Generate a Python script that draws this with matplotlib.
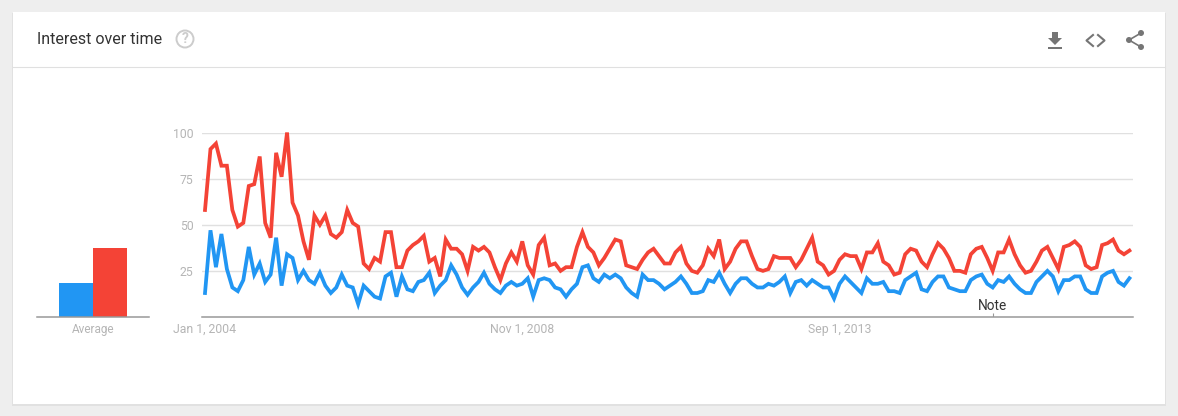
import matplotlib
matplotlib.use("Agg")
import matplotlib.pyplot as plt
from matplotlib.patches import Rectangle, Circle, Polygon

plt.rcParams["font.family"] = ["Roboto", "DejaVu Sans"]

red_vals = [
    58, 91, 94, 82, 82, 58, 49, 51, 71, 72, 87, 51, 43, 89, 76, 100, 62, 55, 41, 31,
    55, 50, 55, 45, 43, 46, 58, 51, 49, 29, 26, 32, 30, 46, 46, 27, 27, 36, 39, 41,
    44, 30, 32, 22, 42, 37, 37, 34, 25, 38, 36, 38, 35, 27, 20, 29, 35, 30, 41, 28,
    23, 39, 43, 28, 29, 25, 27, 27, 38, 46, 38, 35, 28, 32, 37, 42, 41, 28, 27, 26,
    31, 35, 37, 33, 29, 29, 35, 38, 29, 25, 24, 28, 37, 33, 42, 26, 30, 37, 41, 41,
    33, 26, 25, 26, 33, 32, 32, 32, 27, 31, 37, 43, 30, 28, 23, 25, 31, 34, 33, 33,
    26, 35, 35, 40, 30, 28, 23, 24, 34, 37, 36, 30, 27, 34, 40, 37, 32, 25, 25, 24,
    34, 37, 38, 32, 25, 35, 35, 42, 34, 28, 24, 25, 30, 36, 38, 32, 26, 38, 39, 41,
    38, 28, 26, 27, 39, 40, 42, 36, 34, 36,
]
blue_vals = [
    13, 47, 27, 45, 26, 16, 14, 20, 38, 23, 29, 19, 23, 43, 17, 34, 32, 20, 25, 20,
    18, 24, 17, 13, 16, 23, 17, 16, 7, 17, 14, 11, 10, 22, 24, 11, 22, 15, 14, 19,
    20, 24, 13, 17, 20, 28, 23, 16, 12, 16, 19, 24, 18, 15, 13, 17, 19, 17, 18, 21,
    11, 20, 21, 20, 16, 15, 11, 15, 18, 27, 28, 21, 19, 23, 21, 23, 21, 16, 13, 11,
    23, 20, 20, 18, 15, 17, 19, 22, 18, 13, 13, 14, 20, 19, 24, 18, 13, 18, 21, 21,
    18, 16, 16, 18, 17, 19, 22, 13, 19, 20, 17, 20, 18, 16, 16, 10, 18, 22, 19, 16,
    13, 21, 18, 18, 19, 14, 14, 13, 20, 22, 24, 15, 14, 19, 22, 22, 16, 15, 14, 14,
    20, 22, 23, 18, 16, 20, 19, 22, 18, 15, 13, 13, 19, 22, 25, 22, 14, 20, 20, 22,
    22, 15, 13, 13, 22, 24, 25, 19, 17, 21,
]
avg_vals = [18.4, 37.4]
y_ticks = [25, 50, 75, 100]
x_ticks = [0, 58, 116]
x_labels = ["Jan 1, 2004", "Nov 1, 2008", "Sep 1, 2013"]

RED = "#f44336"
BLUE = "#2196f3"
W, H = 1178, 416


def px_axes(left, top, right, bottom):
    return fig.add_axes([left / W, 1 - bottom / H, (right - left) / W, (bottom - top) / H])


fig = plt.figure(figsize=(W / 100, H / 100), dpi=100, facecolor="#eeeeee")

# card, header and icons are drawn in pixel coordinates
bg = fig.add_axes([0, 0, 1, 1], zorder=0)
bg.set_xlim(0, W)
bg.set_ylim(H, 0)
bg.axis("off")
bg.add_patch(Rectangle((12, 13), 1154, 393, fc="#000000", alpha=0.05, lw=0))
bg.add_patch(Rectangle((13, 12), 1152, 392, fc="white", lw=0))
bg.plot([13, 1165], [67, 67], color="#e0e0e0", lw=0.8)
bg.text(37, 39, "Interest over time", fontsize=11.5, color="#333333", va="center")
bg.add_patch(Circle((185, 39), 8.5, fc="none", ec="#cccccc", lw=1.4))
bg.text(185, 39, "?", fontsize=10, color="#cccccc", ha="center", va="center", fontweight="bold")

icon = "#757575"
bg.add_patch(Polygon([(1052, 32), (1058, 32), (1058, 38), (1062, 38), (1055, 45), (1048, 38), (1052, 38)], fc=icon, lw=0))
bg.add_patch(Rectangle((1048, 47), 14, 2, fc=icon, lw=0))
bg.plot([1093, 1086.5, 1093], [35, 40.5, 46], color=icon, lw=1.5)
bg.plot([1098, 1104.5, 1098], [35, 40.5, 46], color=icon, lw=1.5)
bg.plot([1141, 1129, 1141], [33, 40, 47], color=icon, lw=1.2)
for cx, cy in [(1141, 33), (1129, 40), (1141, 47)]:
    bg.add_patch(Circle((cx, cy), 3, fc=icon, lw=0))

# main line chart
ax = px_axes(202, 132.5, 1133, 317)
ax.set_zorder(1)
ax.patch.set_visible(False)
ax.set_ylim(0, 100)
ax.set_xlim(-0.55, 169.65)
ax.plot(range(len(red_vals)), red_vals, color=RED, lw=2.7, zorder=3, clip_on=False, solid_joinstyle="miter")
ax.plot(range(len(blue_vals)), blue_vals, color=BLUE, lw=2.7, zorder=3, clip_on=False, solid_joinstyle="miter")
ax.set_yticks(y_ticks)
ax.set_xticks(x_ticks)
ax.set_xticklabels(x_labels)
ax.tick_params(axis="both", length=0, labelsize=8.8, labelcolor="#b5b5b5")
ax.tick_params(axis="x", pad=4)
ax.tick_params(axis="y", pad=6)
ax.grid(axis="y", color="#e0e0e0", lw=1)
ax.set_axisbelow(True)
for name in ["top", "left", "right"]:
    ax.spines[name].set_visible(False)
ax.spines["bottom"].set_color("#999999")
ax.spines["bottom"].set_linewidth(1.1)
ax.vlines(144, 0, 2.2, color="#999999", lw=0.8, zorder=2)
ax.text(144, 6, "Note", fontsize=9.8, color="#333333", ha="center", va="center")

# average bars
ax2 = px_axes(37, 132.5, 149, 317)
ax2.set_zorder(1)
ax2.patch.set_visible(False)
ax2.set_ylim(0, 100)
ax2.set_xlim(0, 112)
ax2.bar([22, 56], avg_vals, width=34, align="edge", color=[BLUE, RED])
ax2.set_yticks([])
ax2.set_xticks([56])
ax2.set_xticklabels(["Average"])
ax2.tick_params(axis="x", length=0, labelsize=8.5, labelcolor="#b5b5b5", pad=4)
for name in ["top", "left", "right"]:
    ax2.spines[name].set_visible(False)
ax2.spines["bottom"].set_color("#999999")
ax2.spines["bottom"].set_linewidth(1.1)

fig.savefig("out.png", dpi=100, facecolor=fig.get_facecolor())
